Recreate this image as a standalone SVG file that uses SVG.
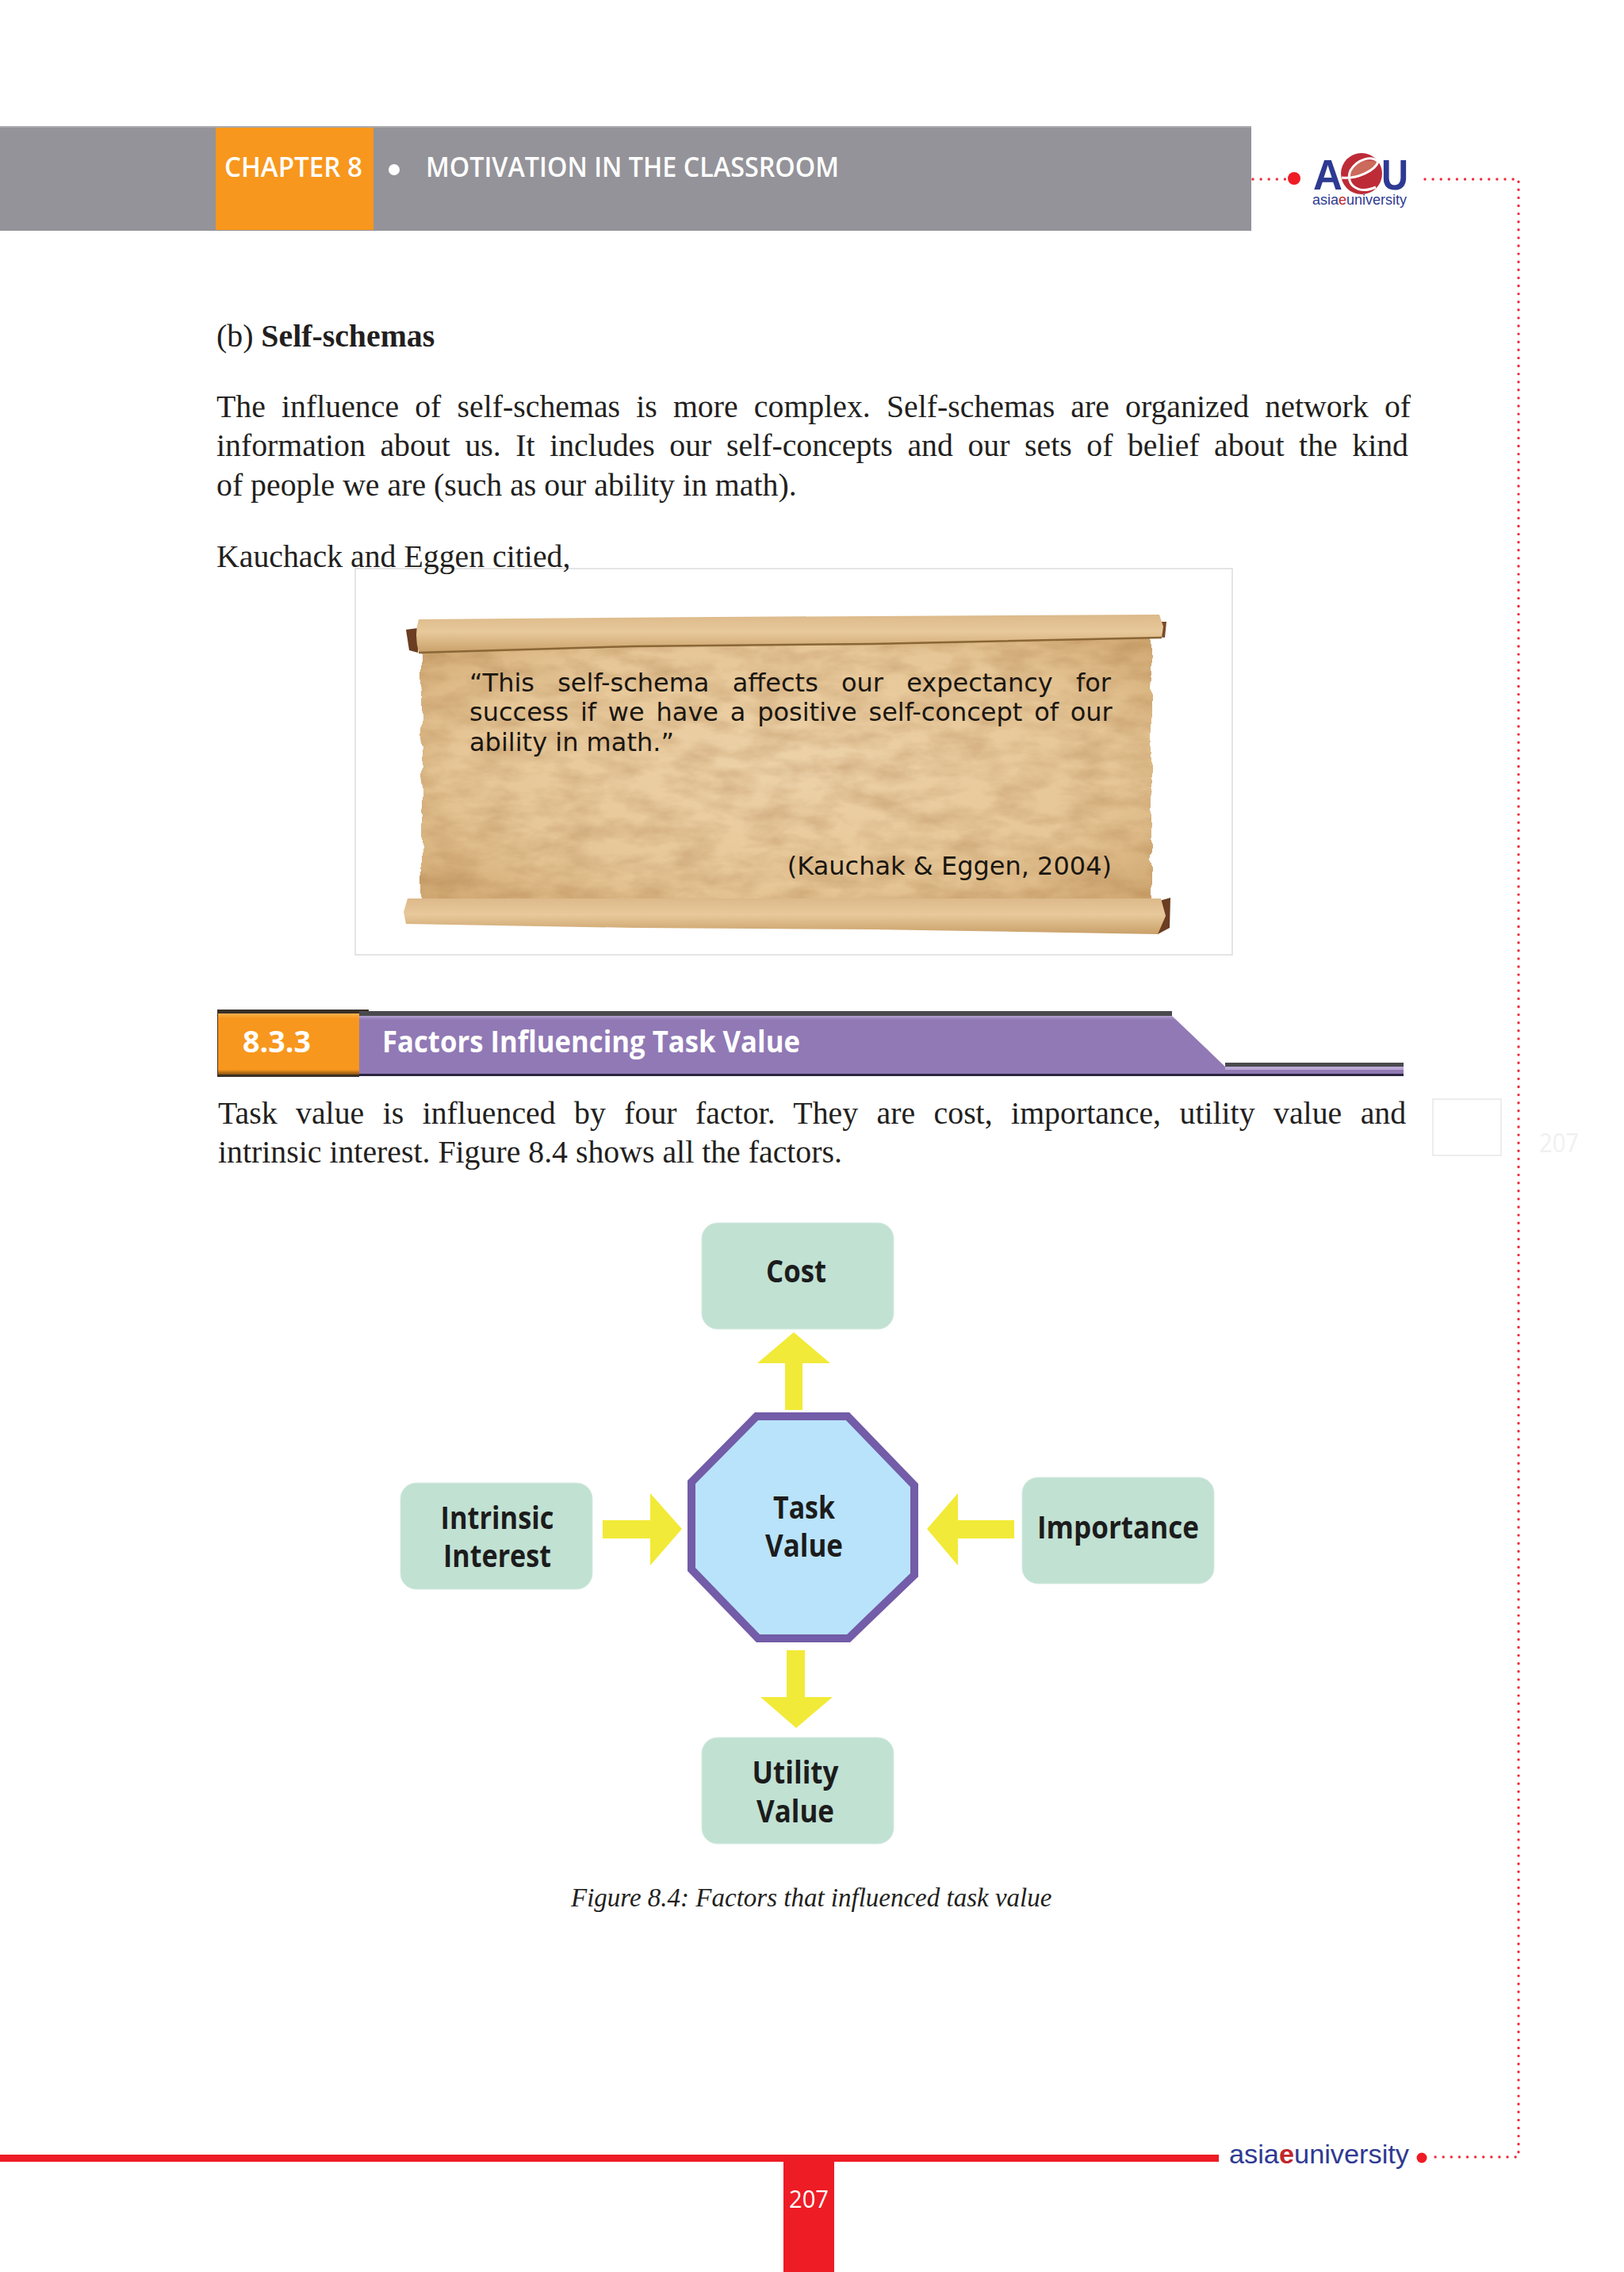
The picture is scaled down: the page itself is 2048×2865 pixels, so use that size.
<svg xmlns="http://www.w3.org/2000/svg" width="2048" height="2865" viewBox="0 0 2048 2865">
<style>
.b{font-family:"Liberation Serif",serif;font-size:39.8px;fill:#231f20}
.cap{font-family:"Liberation Serif",serif;font-size:33px;font-style:italic;fill:#231f20}
.h{font-family:"Open Sans","Noto Sans",sans-serif;font-weight:600;font-size:35px;fill:#fff}
.hb{font-family:"Open Sans","Noto Sans",sans-serif;font-weight:700;font-size:37px;fill:#fff}
.n{font-family:"Open Sans","Noto Sans",sans-serif;font-weight:700;font-size:40px;fill:#1c1c1c;text-anchor:middle}
.s{font-family:"DejaVu Sans",sans-serif;font-size:32px;fill:#1a1610}
.box{fill:#c1e1d3;stroke:#d5ebe1;stroke-width:1}
.arrow{fill:#f2ea38}
.dots{fill:none;stroke:#ee2a3a;stroke-width:3.4;stroke-linecap:round;stroke-dasharray:0 10.1}
.l{font-family:"Liberation Sans",sans-serif;fill:#2e3a92}
</style>
<defs>
<radialGradient id="paper" cx=".5" cy=".5" r=".75"><stop offset="0" stop-color="#edd2a9"/><stop offset=".6" stop-color="#e6c696"/><stop offset="1" stop-color="#c99e66"/></radialGradient>
<linearGradient id="roll" x1="0" y1="0" x2="0" y2="1"><stop offset="0" stop-color="#dcb98a"/><stop offset=".45" stop-color="#e8c99b"/><stop offset="1" stop-color="#c9a069"/></linearGradient>
<linearGradient id="purple" x1="0" y1="0" x2="0" y2="1"><stop offset="0" stop-color="#b3a2cf"/><stop offset=".07" stop-color="#9179b5"/><stop offset="1" stop-color="#9179b5"/></linearGradient>
<linearGradient id="orange" x1="0" y1="0" x2="0" y2="1"><stop offset="0" stop-color="#fbb34d"/><stop offset=".08" stop-color="#f8971d"/><stop offset=".92" stop-color="#f8971d"/><stop offset="1" stop-color="#8a5310"/></linearGradient>
<filter id="torn" x="-5%" y="-5%" width="110%" height="110%" color-interpolation-filters="sRGB">
<feTurbulence type="fractalNoise" baseFrequency="0.05" numOctaves="4" seed="7" result="n"/>
<feDisplacementMap in="SourceGraphic" in2="n" scale="9" xChannelSelector="R" yChannelSelector="G" result="d"/>
<feTurbulence type="fractalNoise" baseFrequency="0.02 0.05" numOctaves="4" seed="3"/>
<feColorMatrix type="matrix" values="0 0 0 0 .6  0 0 0 0 .4  0 0 0 0 .2  .5 0 0 0 -.17" result="t"/>
<feComposite in="t" in2="d" operator="in" result="tt"/>
<feMerge><feMergeNode in="d"/><feMergeNode in="tt"/></feMerge>
</filter>
</defs>
<rect width="2048" height="2865" fill="#fff"/>

<g id="header">
<rect x="0" y="159" width="1578" height="132" fill="#949399"/>
<rect x="0" y="159" width="1578" height="2" fill="#aaa9ad"/>
<rect x="272" y="161" width="199" height="129" fill="#f8971d"/>
<text class="h" x="283" y="223" textLength="174" lengthAdjust="spacingAndGlyphs">CHAPTER 8</text>
<circle cx="497" cy="214" r="7" fill="#fff"/>
<text class="h" x="537" y="223" textLength="521" lengthAdjust="spacingAndGlyphs">MOTIVATION IN THE CLASSROOM</text>
</g>

<g id="logo">
<path class="dots" d="M1580 226H1622"/>
<circle cx="1632" cy="225" r="8" fill="#ee1c25"/>
<circle cx="1717" cy="219" r="26" fill="#bd2b37"/>
<path d="M1700 225C1701 208 1714 199 1738 204C1732 215 1716 224 1700 225Z" fill="#cc6a5c"/>
<path d="M1692 224C1712 226 1734 215 1738 204C1730 196 1712 200 1703 215C1696 232 1712 246 1735 236" fill="none" stroke="#fff" stroke-width="3"/>
<text class="l" x="1656" y="239" font-size="54" font-weight="700" textLength="37" lengthAdjust="spacingAndGlyphs">A</text>
<text class="l" x="1742" y="239" font-size="54" font-weight="700" textLength="34" lengthAdjust="spacingAndGlyphs">U</text>
<text class="l" x="1655" y="258" font-size="17.5" textLength="119" lengthAdjust="spacingAndGlyphs">asia<tspan fill="#c1272d">e</tspan>university</text>
</g>
<path class="dots" d="M1797 226H1915V2720H1810"/>

<g id="scroll">
<rect x="448" y="717" width="1106" height="487" fill="#fff" stroke="#dcdcdc" stroke-width="1.5"/>
<rect x="532" y="790" width="920" height="350" fill="url(#paper)" filter="url(#torn)"/>
<path d="M512 794L527 792V823L516 820Z" fill="#6b3d22"/>
<path d="M1460 784L1471 784L1469 804L1460 803Z" fill="#7a4a2a"/>
<path d="M528 781L900 778L1462 775L1467 790L1465 804L1100 812L800 815L528 823Q522 800 528 781Z" fill="url(#roll)"/>
<path d="M528 823L800 815L1100 812L1465 804" fill="none" stroke="#8a6636" stroke-width="2.5"/>
<path d="M1462 1136L1476 1132L1475 1170L1460 1178Z" fill="#6b3d22"/>
<path d="M514 1133H1464L1470 1155L1460 1178L1100 1172L800 1170L512 1165L509 1150Z" fill="url(#roll)"/>
<text class="s" x="592" y="872" word-spacing="19">“This self-schema affects our expectancy for</text>
<text class="s" x="592" y="909" word-spacing="4.6">success if we have a positive self-concept of our</text>
<text class="s" x="592" y="947">ability in math.”</text>
<text class="s" x="1402" y="1103" text-anchor="end">(Kauchak &amp; Eggen, 2004)</text>
</g>

<text class="b" x="273" y="437">(b) <tspan font-weight="700">Self-schemas</tspan></text>
<text class="b" x="273" y="526" word-spacing="10.2">The influence of self-schemas is more complex. Self-schemas are organized network of</text>
<text class="b" x="273" y="575" word-spacing="8.6">information about us. It includes our self-concepts and our sets of belief about the kind</text>
<text class="b" x="273" y="625">of people we are (such as our ability in math).</text>
<text class="b" x="273" y="715">Kauchack and Eggen citied,</text>

<g id="section">
<path d="M274 1273H465V1281H453V1358H274Z" fill="#3a3026"/>
<rect x="275" y="1278" width="178" height="77" fill="url(#orange)"/>
<rect x="453" y="1275" width="1025" height="7" fill="#4a4a4e"/>
<rect x="1545" y="1340" width="225" height="6" fill="#4a4a4e"/>
<rect x="453" y="1354" width="1317" height="3" fill="#2c2440"/>
<path d="M453 1281H1478L1545 1345H1770V1354H453Z" fill="url(#purple)"/>
<rect x="1545" y="1345" width="225" height="4" fill="#b9a8d4"/>
<text class="hb" x="306" y="1327" textLength="86" lengthAdjust="spacingAndGlyphs">8.3.3</text>
<text class="hb" x="482" y="1327" textLength="527" lengthAdjust="spacingAndGlyphs">Factors Influencing Task Value</text>
</g>

<text class="b" x="275" y="1417" word-spacing="13.5">Task value is influenced by four factor. They are cost, importance, utility value and</text>
<text class="b" x="275" y="1466">intrinsic interest. Figure 8.4 shows all the factors.</text>

<rect x="1807" y="1386" width="86" height="71" fill="#fff" stroke="#e8e8e8" stroke-width="1.5"/>
<text x="1941" y="1453" font-family="Open Sans,sans-serif" font-size="33" fill="#f0f0f0" textLength="50" lengthAdjust="spacingAndGlyphs">207</text>

<g id="connectors">
<path class="arrow" d="M990 1778V1719H955L1001 1680L1047 1719H1012V1778Z"/>
<path class="arrow" d="M992 2081H1015V2140H1050L1004 2179L959 2140H992Z"/>
<path class="arrow" d="M760 1917H820V1883L860 1928L820 1974V1940H760Z"/>
<path class="arrow" d="M1279 1917H1208V1883L1169 1928L1208 1974V1940H1279Z"/>
</g>

<g id="node-task-value">
<polygon points="954,1786 1069,1786 1153,1873 1153,1986 1070,2066 956,2066 872,1979 872,1869" fill="#b9e3fb" stroke="#735ca8" stroke-width="10"/>
<text class="n" x="1014" y="1915" textLength="78" lengthAdjust="spacingAndGlyphs">Task</text>
<text class="n" x="1014" y="1963" textLength="98" lengthAdjust="spacingAndGlyphs">Value</text>
</g>
<g id="node-cost">
<rect class="box" x="885" y="1542" width="242" height="134" rx="20"/>
<text class="n" x="1004" y="1617" textLength="76" lengthAdjust="spacingAndGlyphs">Cost</text>
</g>
<g id="node-utility">
<rect class="box" x="885" y="2191" width="242" height="134" rx="20"/>
<text class="n" x="1003" y="2249" textLength="109" lengthAdjust="spacingAndGlyphs">Utility</text>
<text class="n" x="1003" y="2298" textLength="98" lengthAdjust="spacingAndGlyphs">Value</text>
</g>
<g id="node-intrinsic">
<rect class="box" x="505" y="1870" width="242" height="134" rx="20"/>
<text class="n" x="627" y="1928" textLength="143" lengthAdjust="spacingAndGlyphs">Intrinsic</text>
<text class="n" x="627" y="1976" textLength="136" lengthAdjust="spacingAndGlyphs">Interest</text>
</g>
<g id="node-importance">
<rect class="box" x="1289" y="1863" width="242" height="134" rx="20"/>
<text class="n" x="1410" y="1940" textLength="204" lengthAdjust="spacingAndGlyphs">Importance</text>
</g>

<text class="cap" x="720" y="2404">Figure 8.4: Factors that influenced task value</text>

<g id="footer">
<rect x="0" y="2717" width="1537" height="9" fill="#ee1c25"/>
<rect x="988" y="2717" width="64" height="148" fill="#ee1c25"/>
<text x="995" y="2784" font-family="Open Sans,sans-serif" font-size="31" fill="#fff" textLength="50" lengthAdjust="spacingAndGlyphs">207</text>
<text class="l" x="1550" y="2728" font-size="34" textLength="227" lengthAdjust="spacingAndGlyphs">asia<tspan fill="#c1272d" font-weight="700">e</tspan>university</text>
<circle cx="1793" cy="2721" r="6.5" fill="#ee1c25"/>
</g>
</svg>
